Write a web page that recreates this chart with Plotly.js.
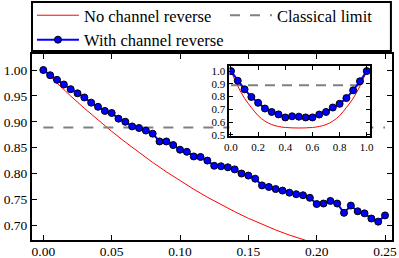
<!DOCTYPE html>
<html>
<head>
<meta charset="utf-8">
<script src="https://cdn.plot.ly/plotly-3.0.1.min.js"></script>
<style>html,body{margin:0;padding:0;background:#fff;}#chart{width:399px;height:258px;}</style>
</head>
<body>
<div id="chart"></div>
<script>
// Main panel data
const pMain = [0.000,0.005,0.010,0.015,0.020,0.025,0.030,0.035,0.040,0.045,0.050,0.055,0.060,0.065,0.070,0.075,0.080,0.085,0.090,0.095,0.100,0.105,0.110,0.115,0.120,0.125,0.130,0.135,0.140,0.145,0.150,0.155,0.160,0.165,0.170,0.175,0.180,0.185,0.190,0.195,0.200,0.205,0.210,0.215,0.220,0.225,0.230,0.235,0.240,0.245,0.250];
const withReverse = [1.000,0.990,0.981,0.972,0.963,0.955,0.947,0.937,0.929,0.921,0.917,0.906,0.900,0.891,0.888,0.883,0.877,0.862,0.862,0.855,0.846,0.842,0.833,0.832,0.825,0.815,0.814,0.812,0.808,0.800,0.796,0.790,0.777,0.774,0.770,0.767,0.763,0.760,0.758,0.753,0.741,0.742,0.747,0.742,0.724,0.738,0.727,0.723,0.713,0.707,0.719];
const pRed = [0.00,0.01,0.02,0.03,0.04,0.05,0.06,0.07,0.08,0.09,0.10,0.11,0.12,0.13,0.14,0.15,0.16,0.17,0.18,0.19,0.20];
const noReverse = [1.000,0.9745,0.9498,0.9261,0.9034,0.8815,0.8606,0.8405,0.8214,0.8033,0.7860,0.7697,0.7542,0.7397,0.7262,0.7135,0.7018,0.6909,0.6810,0.6721,0.6640];
const classicalX = [0.0, 0.25];
const classicalLimit = [0.889, 0.889];

// Inset data
const pInset = [0.00,0.05,0.10,0.15,0.20,0.25,0.30,0.35,0.40,0.45,0.50,0.55,0.60,0.65,0.70,0.75,0.80,0.85,0.90,0.95,1.00];
const insetWith = [1.000,0.924,0.857,0.797,0.751,0.706,0.679,0.660,0.636,0.645,0.642,0.636,0.636,0.659,0.679,0.714,0.743,0.788,0.849,0.920,1.000];
const insetNo = [1.000,0.882,0.786,0.714,0.650,0.607,0.580,0.565,0.557,0.554,0.553,0.554,0.557,0.565,0.580,0.607,0.650,0.714,0.786,0.882,1.000];

const FONT = 'Liberation Serif, Times New Roman, serif';
const blueMarker = {symbol:'circle', size:7, color:'#0000ff', line:{color:'#000000', width:1}};

const traces = [
  {x:pRed, y:noReverse, type:'scatter', mode:'lines', name:'No channel reverse',
   line:{color:'#ff0000', width:1}, xaxis:'x', yaxis:'y'},
  {x:classicalX, y:classicalLimit, type:'scatter', mode:'lines', name:'Classical limit',
   line:{color:'#808080', width:2, dash:'10px,10px'}, xaxis:'x', yaxis:'y'},
  {x:pMain, y:withReverse, type:'scatter', mode:'lines+markers', name:'With channel reverse',
   line:{color:'#0000ff', width:2}, marker:blueMarker, xaxis:'x', yaxis:'y'},
  // inset
  {x:pInset, y:insetNo, type:'scatter', mode:'lines', showlegend:false,
   line:{color:'#ff0000', width:1, shape:'spline'}, xaxis:'x2', yaxis:'y2'},
  {x:[0,1], y:classicalLimit, type:'scatter', mode:'lines', showlegend:false,
   line:{color:'#808080', width:2, dash:'10px,7px'}, xaxis:'x2', yaxis:'y2'},
  {x:pInset, y:insetWith, type:'scatter', mode:'lines+markers', showlegend:false,
   line:{color:'#0000ff', width:2}, marker:blueMarker, xaxis:'x2', yaxis:'y2'}
];

const axBase = {
  showline:true, linecolor:'#000', linewidth:2, mirror:'ticks',
  ticks:'inside', ticklen:5, tickwidth:1, tickcolor:'#000',
  showgrid:false, zeroline:false,
  tickfont:{family:FONT, size:13.5, color:'#000'}
};
const insetFont = {family:FONT, size:11, color:'#000'};

const layout = {
  width:399, height:258,
  margin:{l:32, r:7, t:54, b:18, autoexpand:false},
  paper_bgcolor:'#fff', plot_bgcolor:'#fff',
  showlegend:true,
  legend:{
    orientation:'h', x:-0.0001, xanchor:'left', y:1.3011, yanchor:'top',
    entrywidth:136, entrywidthmode:'pixels', itemwidth:42,
    borderwidth:0, bgcolor:'rgba(0,0,0,0)',
    font:{family:FONT, size:16.5, color:'#000'}
  },
  // frame around the legend (matplotlib-style legend box)
  shapes:[{type:'rect', xref:'paper', yref:'paper', x0:0, x1:0.997, y0:1.016, y1:1.2796,
           line:{color:'#000', width:2}, fillcolor:'rgba(0,0,0,0)', layer:'above'}],
  xaxis:Object.assign({}, axBase, {range:[-0.0083, 0.2551], tickmode:'linear', tick0:0, dtick:0.05, tickformat:'.2f', ticklabelstandoff:-2}),
  yaxis:Object.assign({}, axBase, {range:[0.6715, 1.031], tickmode:'linear', tick0:0.7, dtick:0.05, tickformat:'.2f'}),
  xaxis2:Object.assign({}, axBase, {domain:[0.5486, 0.9389], anchor:'y2', range:[-0.011, 1.024], tickmode:'linear', tick0:0, dtick:0.2, tickformat:'.1f', ticklen:4, tickfont:insetFont}),
  yaxis2:Object.assign({}, axBase, {domain:[0.559, 0.9355], anchor:'x2', range:[0.49, 1.04], tickmode:'linear', tick0:0.5, dtick:0.1, tickformat:'.1f', ticklen:4, tickfont:insetFont})
};

Plotly.newPlot('chart', traces, layout, {displayModeBar:false, staticPlot:true});
</script>
</body>
</html>
